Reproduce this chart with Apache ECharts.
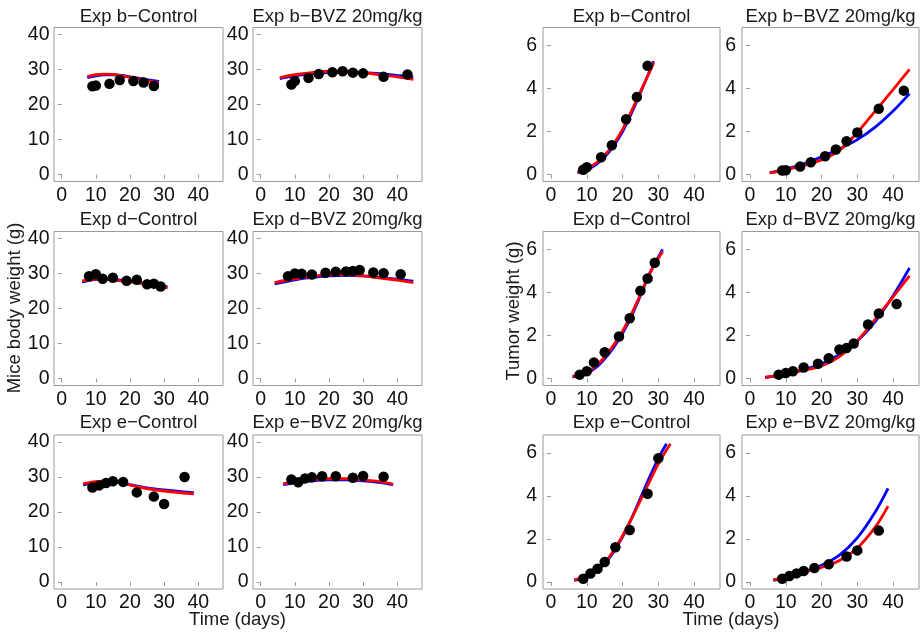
<!DOCTYPE html>
<html><head><meta charset="utf-8">
<script src="https://cdn.jsdelivr.net/npm/echarts@6/dist/echarts.min.js"></script>
<style>html,body{margin:0;padding:0;background:#fff}#c{width:920px;height:634px}</style>
</head><body><div id="c"></div><script>
// ---------- data ----------
const panelTitles = ['Exp b\u2212Control', 'Exp b\u2212BVZ 20mg/kg', 'Exp d\u2212Control', 'Exp d\u2212BVZ 20mg/kg', 'Exp e\u2212Control', 'Exp e\u2212BVZ 20mg/kg'];
const xTicks = [0, 10, 20, 30, 40];
const bodyTicks = [0, 10, 20, 30, 40];
const tumorTicks = [0, 2, 4, 6];

// observation days
const daysBCtrl = [9, 10, 14, 17, 21, 24, 27];
const daysBBvz = [9, 10, 14, 17, 21, 24, 27, 30, 36, 43];
const daysDCtrl = [8, 10, 12, 15, 19, 22, 25, 27, 29];
const daysDBvz = [8, 10, 12, 15, 19, 22, 25, 27, 29, 33, 36, 41];
const daysECtrlBody = [9, 11, 13, 15, 18, 22, 27, 30, 36];
const daysECtrlTumor = [9, 11, 13, 15, 18, 22, 27, 30];
const daysEBvz = [9, 11, 13, 15, 18, 22, 27, 30, 36];

// mice body weight (g)
const bodyBCtrl = [25.2, 25.4, 25.9, 27.0, 26.7, 26.3, 25.3];
const bodyBBvz = [25.7, 26.7, 27.6, 28.7, 29.2, 29.5, 29.1, 28.9, 27.9, 28.6];
const bodyDCtrl = [29.2, 29.8, 28.5, 28.8, 27.9, 28.2, 26.9, 27.1, 26.3];
const bodyDBvz = [29.2, 30.0, 29.9, 29.7, 30.2, 30.5, 30.6, 30.7, 31.0, 30.3, 30.1, 29.8];
const bodyECtrl = [27.0, 27.6, 28.3, 28.8, 28.6, 25.6, 24.4, 22.3, 30.0];
const bodyEBvz = [29.3, 28.5, 29.6, 29.9, 30.2, 30.2, 29.8, 30.3, 30.1];

// tumor weight (g)
const tumorBCtrl = [0.22, 0.34, 0.80, 1.36, 2.57, 3.60, 5.06];
const tumorBBvz = [0.19, 0.20, 0.37, 0.57, 0.85, 1.16, 1.55, 1.95, 3.06, 3.90];
const tumorDCtrl = [0.18, 0.34, 0.75, 1.22, 1.95, 2.80, 4.08, 4.65, 5.38];
const tumorDBvz = [0.18, 0.26, 0.34, 0.51, 0.69, 0.94, 1.35, 1.42, 1.63, 2.51, 3.02, 3.46];
const tumorECtrl = [0.15, 0.39, 0.62, 0.93, 1.62, 2.42, 4.10, 5.75];
const tumorEBvz = [0.15, 0.28, 0.40, 0.51, 0.65, 0.82, 1.19, 1.47, 2.39];

// fitted curves (red / blue), [day, value]
const bodyBCtrlRed = [[7.5, 28.0], [10, 28.5], [12.5, 28.7], [15, 28.6], [17.5, 28.2], [20, 27.8], [22.5, 27.3], [25, 26.8], [28.5, 26.2]];
const bodyBCtrlBlue = [[7.5, 27.7], [10, 28.2], [12.5, 28.5], [15, 28.5], [17.5, 28.3], [20, 27.9], [22.5, 27.5], [25, 27.1], [28.5, 26.6]];
const bodyBBvzRed = [[5.6, 27.7], [10, 28.5], [15, 29.1], [20, 29.5], [25, 29.5], [30, 29.1], [35, 28.5], [40, 27.9], [44.7, 27.2]];
const bodyBBvzBlue = [[5.6, 27.4], [10, 28.2], [15, 28.8], [20, 29.1], [25, 29.2], [30, 29.1], [35, 28.8], [40, 28.3], [44.7, 27.9]];
const bodyDCtrlRed = [[6, 27.9], [8, 28.2], [10, 28.4], [12.5, 28.4], [15, 28.2], [20, 27.6], [25, 26.9], [31, 25.9]];
const bodyDCtrlBlue = [[6, 27.5], [8, 28.0], [10, 28.3], [12.5, 28.4], [15, 28.3], [20, 27.8], [25, 27.1], [31, 26.2]];
const bodyDBvzRed = [[4.1, 27.4], [10, 28.5], [15, 29.2], [20, 29.6], [25, 29.7], [30, 29.3], [35, 28.7], [40, 28.1], [44.7, 27.4]];
const bodyDBvzBlue = [[4.1, 27.0], [10, 28.2], [15, 28.9], [20, 29.3], [25, 29.5], [30, 29.3], [35, 28.9], [40, 28.4], [44.7, 27.8]];
const bodyECtrlRed = [[6.3, 28.1], [10, 28.7], [13, 28.9], [16, 28.6], [20, 27.7], [25, 26.7], [30, 26.0], [35, 25.5], [38.7, 25.2]];
const bodyECtrlBlue = [[6.3, 27.7], [10, 28.5], [13, 28.7], [16, 28.5], [20, 27.8], [25, 26.9], [30, 26.3], [35, 25.8], [38.7, 25.5]];
const bodyEBvzRed = [[6.6, 28.1], [10, 28.6], [15, 29.2], [20, 29.5], [25, 29.5], [30, 29.2], [35, 28.7], [38.8, 28.0]];
const bodyEBvzBlue = [[6.6, 27.8], [10, 28.3], [15, 28.9], [20, 29.2], [25, 29.2], [30, 28.9], [35, 28.4], [38.8, 27.8]];

const tumorBCtrlRed = [[7.4, 0.12], [10, 0.28], [12.5, 0.52], [15, 0.90], [17.5, 1.42], [20, 2.10], [22.5, 2.95], [25, 3.85], [27.5, 4.75], [28.7, 5.20]];
const tumorBCtrlBlue = [[7.4, 0.08], [10, 0.22], [12.5, 0.45], [15, 0.82], [17.5, 1.33], [20, 2.00], [22.5, 2.85], [25, 3.80], [27.5, 4.78], [28.7, 5.27]];
const tumorBBvzRed = [[5.5, 0.08], [10, 0.22], [15, 0.42], [20, 0.68], [25, 1.12], [30, 1.95], [35, 2.95], [40, 3.95], [44.6, 4.89]];
const tumorBBvzBlue = [[5.5, 0.08], [10, 0.25], [15, 0.50], [20, 0.82], [25, 1.20], [30, 1.62], [35, 2.20], [40, 2.95], [44.6, 3.76]];
const tumorDCtrlRed = [[6, 0.10], [10, 0.30], [12.5, 0.58], [15, 1.00], [17.5, 1.55], [20, 2.20], [22.5, 3.00], [25, 3.90], [27.5, 4.85], [31.2, 5.90]];
const tumorDCtrlBlue = [[6, 0.07], [10, 0.25], [12.5, 0.50], [15, 0.92], [17.5, 1.45], [20, 2.10], [22.5, 2.90], [25, 3.85], [27.5, 4.85], [31.2, 6.00]];
const tumorDBvzRed = [[4.2, 0.06], [10, 0.20], [15, 0.38], [20, 0.58], [25, 1.02], [30, 1.75], [35, 2.75], [40, 3.80], [44.6, 4.77]];
const tumorDBvzBlue = [[4.2, 0.04], [10, 0.22], [15, 0.42], [20, 0.68], [25, 1.12], [30, 1.75], [35, 2.65], [40, 3.85], [44.6, 5.14]];
const tumorECtrlRed = [[6.5, 0.10], [10, 0.28], [12.5, 0.52], [15, 0.90], [17.5, 1.45], [20, 2.15], [22.5, 2.95], [25, 3.80], [27.5, 4.65], [30, 5.50], [33.4, 6.43]];
const tumorECtrlBlue = [[6.5, 0.07], [10, 0.24], [12.5, 0.48], [15, 0.85], [17.5, 1.40], [20, 2.10], [22.5, 2.95], [25, 3.90], [27.5, 4.85], [30, 5.75], [32.3, 6.43]];
const tumorEBvzRed = [[6.5, 0.10], [10, 0.22], [15, 0.45], [20, 0.68], [25, 1.00], [30, 1.58], [35, 2.55], [38.6, 3.53]];
const tumorEBvzBlue = [[6.5, 0.08], [10, 0.22], [15, 0.47], [20, 0.78], [25, 1.25], [30, 2.05], [35, 3.25], [38.6, 4.35]];

// ---------- layout ----------
const FONT = '"Liberation Sans", Arial, Helvetica, sans-serif';
const TXT = '#1a1a1a';
const colLeft = [54, 253, 543, 742];
const colWidth = [169, 169, 177, 177];
const rowTop = [27.5, 231.5, 435];
const rowHeight = 154;
const titleY = [16.5, 220, 423];

const panels = [
  {t: 0, col: 0, row: 0, kind: 'body', days: daysBCtrl, vals: bodyBCtrl, red: bodyBCtrlRed, blue: bodyBCtrlBlue},
  {t: 1, col: 1, row: 0, kind: 'body', days: daysBBvz, vals: bodyBBvz, red: bodyBBvzRed, blue: bodyBBvzBlue},
  {t: 2, col: 0, row: 1, kind: 'body', days: daysDCtrl, vals: bodyDCtrl, red: bodyDCtrlRed, blue: bodyDCtrlBlue},
  {t: 3, col: 1, row: 1, kind: 'body', days: daysDBvz, vals: bodyDBvz, red: bodyDBvzRed, blue: bodyDBvzBlue},
  {t: 4, col: 0, row: 2, kind: 'body', days: daysECtrlBody, vals: bodyECtrl, red: bodyECtrlRed, blue: bodyECtrlBlue},
  {t: 5, col: 1, row: 2, kind: 'body', days: daysEBvz, vals: bodyEBvz, red: bodyEBvzRed, blue: bodyEBvzBlue},
  {t: 0, col: 2, row: 0, kind: 'tumor', days: daysBCtrl, vals: tumorBCtrl, red: tumorBCtrlRed, blue: tumorBCtrlBlue},
  {t: 1, col: 3, row: 0, kind: 'tumor', days: daysBBvz, vals: tumorBBvz, red: tumorBBvzRed, blue: tumorBBvzBlue},
  {t: 2, col: 2, row: 1, kind: 'tumor', days: daysDCtrl, vals: tumorDCtrl, red: tumorDCtrlRed, blue: tumorDCtrlBlue},
  {t: 3, col: 3, row: 1, kind: 'tumor', days: daysDBvz, vals: tumorDBvz, red: tumorDBvzRed, blue: tumorDBvzBlue},
  {t: 4, col: 2, row: 2, kind: 'tumor', days: daysECtrlTumor, vals: tumorECtrl, red: tumorECtrlRed, blue: tumorECtrlBlue},
  {t: 5, col: 3, row: 2, kind: 'tumor', days: daysEBvz, vals: tumorEBvz, red: tumorEBvzRed, blue: tumorEBvzBlue}
];

const grid = [], xAxis = [], yAxis = [], series = [], graphic = [];
const labelStyle = {color: '#111', fontSize: 19.5, fontFamily: FONT};
const tickStyle = {show: true, length: 4, lineStyle: {color: '#9a9a9a', width: 1}};

panels.forEach((p, i) => {
  const left = colLeft[p.col], top = rowTop[p.row], w = colWidth[p.col];
  grid.push({left: left, top: top, width: w, height: rowHeight, show: true, borderColor: '#9a9a9a', borderWidth: 1, backgroundColor: '#fff'});
  xAxis.push({
    type: 'value', gridIndex: i, min: -2.25, max: 47.25,
    axisLine: {show: false}, splitLine: {show: false},
    axisTick: Object.assign({customValues: xTicks}, tickStyle),
    axisLabel: Object.assign({customValues: xTicks, margin: 4}, labelStyle)
  });
  const isBody = p.kind === 'body';
  const yt = isBody ? bodyTicks : tumorTicks;
  yAxis.push({
    type: 'value', gridIndex: i,
    min: isBody ? -2 : -0.325, max: isBody ? 42 : 6.835,
    axisLine: {show: false}, splitLine: {show: false},
    axisTick: Object.assign({customValues: yt}, tickStyle),
    axisLabel: Object.assign({customValues: yt, margin: isBody ? 4.5 : 6}, labelStyle)
  });
  series.push({
    type: 'line', xAxisIndex: i, yAxisIndex: i, data: p.blue, smooth: 0.35,
    showSymbol: false, symbol: 'none', lineStyle: {color: '#0000ff', width: 2.8}, z: 2
  });
  series.push({
    type: 'line', xAxisIndex: i, yAxisIndex: i, data: p.red, smooth: 0.35,
    showSymbol: false, symbol: 'none', lineStyle: {color: '#ff0000', width: 2.8}, z: 3
  });
  series.push({
    type: 'scatter', xAxisIndex: i, yAxisIndex: i, data: p.days.map((d, k) => [d, p.vals[k]]),
    symbolSize: 10.5, itemStyle: {color: '#000', opacity: 1}, z: 4
  });
  graphic.push({
    type: 'text', x: left + w / 2, y: titleY[p.row],
    style: {text: panelTitles[p.t], fill: TXT, font: '18.5px ' + FONT, align: 'center', verticalAlign: 'middle'}
  });
});

graphic.push({type: 'text', x: 15, y: 308, rotation: Math.PI / 2,
  style: {text: 'Mice body weight (g)', fill: TXT, font: '18.5px ' + FONT, align: 'center', verticalAlign: 'middle'}});
graphic.push({type: 'text', x: 514, y: 311, rotation: Math.PI / 2,
  style: {text: 'Tumor weight (g)', fill: TXT, font: '18.5px ' + FONT, align: 'center', verticalAlign: 'middle'}});
graphic.push({type: 'text', x: 237.5, y: 620,
  style: {text: 'Time (days)', fill: TXT, font: '18.5px ' + FONT, align: 'center', verticalAlign: 'middle'}});
graphic.push({type: 'text', x: 731, y: 620,
  style: {text: 'Time (days)', fill: TXT, font: '18.5px ' + FONT, align: 'center', verticalAlign: 'middle'}});

const chart = echarts.init(document.getElementById('c'), null, {renderer: 'canvas'});
chart.setOption({
  animation: false,
  backgroundColor: '#fff',
  grid, xAxis, yAxis, series, graphic
});
</script></body></html>
